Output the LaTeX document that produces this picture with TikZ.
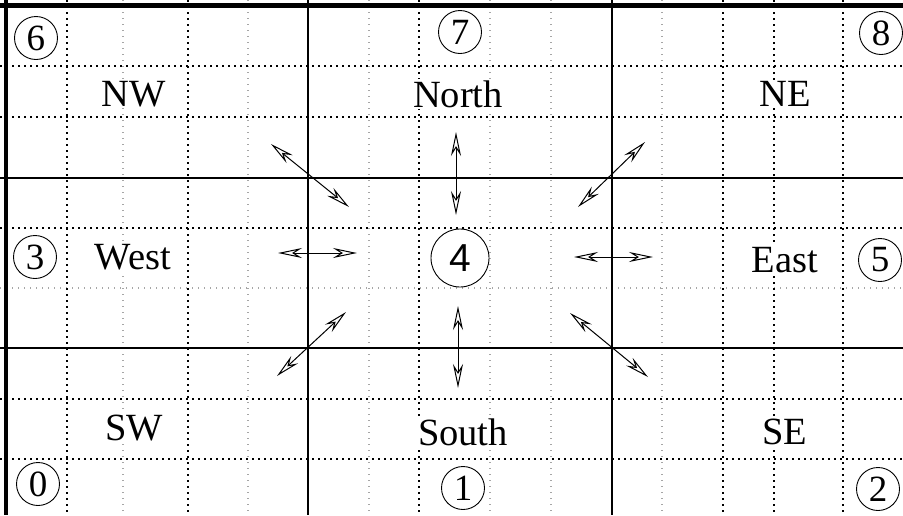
\documentclass[tikz,border=0pt]{standalone}
\usepackage{fontspec}
\setmainfont{Liberation Serif}
\newfontfamily\sansdigit{Liberation Sans}
\usetikzlibrary{arrows.meta}
\begin{document}
\begin{tikzpicture}[x=1pt,y=-1pt,
  bdot/.style={line width=1.1pt,dash pattern=on 1.6pt off 4.4pt},
  gdot/.style={line width=1.4pt,gray!70,dash pattern=on 1.4pt off 4.6pt},
  solidline/.style={line width=1.3pt},
  border/.style={line width=5pt},
  lab/.style={font=\fontsize{38.5}{44}\selectfont,inner sep=1.5pt,fill=white},
  cnum/.style={draw,circle,fill=white,line width=0.9pt,minimum size=43pt,inner sep=0pt,font=\fontsize{37}{42}\selectfont},
  bignum/.style={draw,circle,fill=white,line width=0.9pt,minimum size=58pt,inner sep=0pt,font=\sansdigit\fontsize{39}{44}\selectfont},
  dbl/.style={line width=1pt,{Stealth[open,length=24pt,width=10pt,inset=8pt]}-{Stealth[open,length=24pt,width=10pt,inset=8pt]}}]
\useasboundingbox (0,0) rectangle (903,515);
\fill[white] (0,0) rectangle (903,515);
% gray dotted grid
\foreach \x in {123,248,369,490,551,662} \draw[gdot] (\x,0) -- (\x,515);
\draw[gdot] (0,288) -- (903,288);
% black dotted grid
\foreach \x in {67,188,419,723,774,843} \draw[bdot] (\x,0) -- (\x,515);
\foreach \y in {66,117,228,399,459} \draw[bdot] (0,\y) -- (903,\y);
% solid lines
\draw[solidline] (308,0) -- (308,515);
\draw[solidline] (612,0) -- (612,515);
\draw[solidline] (0,178) -- (903,178);
\draw[solidline] (0,348) -- (903,348);
% borders
\draw[border] (0,5) -- (903,5);
\draw[line width=4pt] (6,0) -- (6,515);
% circled numbers
\node[cnum] (n6) at (36,38) {6};
\node[cnum] (n7) at (460,32) {7};
\node[cnum] (n8) at (881,33) {8};
\node[cnum] (n3) at (35,257) {3};
\node[cnum] (n5) at (880,260) {5};
\node[cnum] (n0) at (38,484) {0};
\node[cnum] (n1) at (463,488) {1};
\node[cnum] (n2) at (878,489) {2};
\node[bignum] (n4) at (460,258) {4};
% labels
\node[lab] (nw) at (134,94) {NW};
\node[lab] (north) at (458,94) {North};
\node[lab] (ne) at (785,94) {NE};
\node[lab] (west) at (133,257) {West};
\node[lab] (east) at (785,260) {East};
\node[lab] (sw) at (134,428) {SW};
\node[lab] (south) at (463,432) {South};
\node[lab] (se) at (785,432) {SE};
% arrow end points
\coordinate (a1) at (271,144); \coordinate (b1) at (349,207);
\coordinate (a2) at (456,132); \coordinate (b2) at (456,215);
\coordinate (a3) at (645,142); \coordinate (b3) at (578,207);
\coordinate (a4) at (278,253); \coordinate (b4) at (357,253);
\coordinate (a5) at (574,257); \coordinate (b5) at (653,257);
\coordinate (a6) at (346,312); \coordinate (b6) at (277,376);
\coordinate (a7) at (458,306); \coordinate (b7) at (458,388);
\coordinate (a8) at (570,313); \coordinate (b8) at (648,377);
\foreach \i in {1,...,8} \draw[dbl] (a\i) -- (b\i);
\end{tikzpicture}
\end{document}
